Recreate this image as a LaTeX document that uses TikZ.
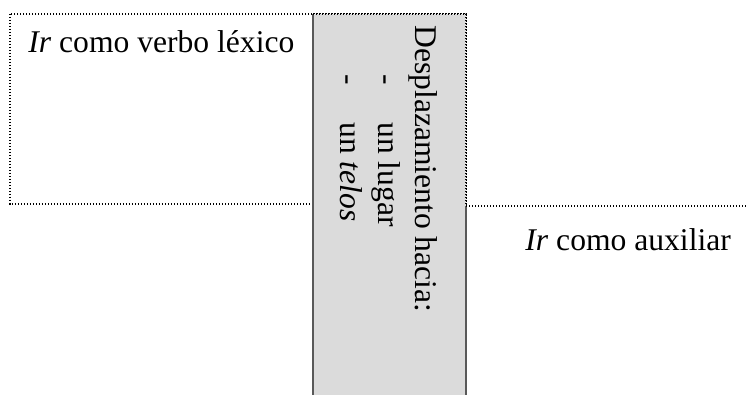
\documentclass[tikz,border=0pt]{standalone}
\usepackage{fontspec}
\setmainfont{Liberation Serif}
\begin{document}
\begin{tikzpicture}[x=0.5pt,y=-0.5pt,
  dotline/.style={line width=0.6pt, dash pattern=on 0.6pt off 0.9pt, black},
  grayedge/.style={line width=1pt, draw=black!65},
  lbl/.style={inner sep=0pt, anchor=base west, font=\fontsize{15.8}{19}\selectfont},
  vlbl/.style={lbl, rotate=-90}]
\useasboundingbox (0,0) rectangle (748,395);
% named corners
\coordinate (LTL) at (10,14);
\coordinate (LBR) at (466,204);
\coordinate (GTL) at (313,14);
\coordinate (GBR) at (466,395);
\coordinate (RTL) at (466,206);
\coordinate (RTR) at (748,206);
% left dotted box
\draw[dotline] (LTL) rectangle (LBR);
% gray box
\fill[black!14] (GTL) rectangle (GBR);
\draw[grayedge] (GTL) -- (GTL |- GBR);
\draw[grayedge] (RTL) -- (GBR);
\draw[dotline] (GTL) -- (GTL -| GBR) -- (LBR);
% right dotted box top
\draw[dotline] (RTL) -- (RTR);
% texts
\node[lbl] (lex) at (28,53) {\textit{Ir} como verbo léxico};
\node[lbl] (aux) at (525,250) {\textit{Ir} como auxiliar};
\node[vlbl] (des) at (415,25) {Desplazamiento hacia:};
\node[vlbl] (d1) at (377,74) {-};
\node[vlbl] (i1) at (378,122) {un lugar};
\node[vlbl] (d2) at (339,74) {-};
\node[vlbl] (i2) at (340,122) {un \textit{telos}};
\end{tikzpicture}
\end{document}
